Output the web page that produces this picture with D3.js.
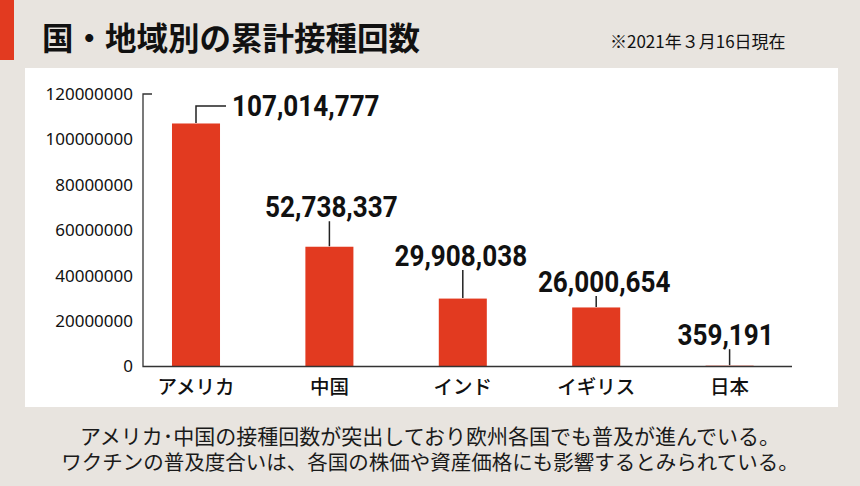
<!DOCTYPE html>
<meta charset="utf-8">
<script src="https://d3js.org/d3.v7.min.js"></script>
<style>
  body { margin: 0; background: #e8e4df; }
  svg { display: block; }
</style>
<div id="my_dataviz"></div>
<script>

// data
var countries = ["アメリカ", "中国", "インド", "イギリス", "日本"];
var doses = [107014777, 52738337, 29908038, 26000654, 359191];
var yTicks = [0, 20000000, 40000000, 60000000, 80000000, 100000000, 120000000];

// label placement (leader line length and nudges)
var leaderLen = [17, 25, 28, 11, 16];
var labelDx = [0, 2, -2, 8, -4];

var width = 860, height = 486;
var red = "#e23a20", ink = "#111";

var svg = d3.select("#my_dataviz")
  .append("svg")
    .attr("width", width)
    .attr("height", height);

// background + white panel
svg.append("rect").attr("width", width).attr("height", height).attr("fill", "#e8e4df");
svg.append("rect").attr("x", 0).attr("y", 0).attr("width", 14).attr("height", 60).attr("fill", red);
svg.append("rect").attr("x", 25).attr("y", 68).attr("width", 813).attr("height", 339).attr("fill", "#fff");

// title
svg.append("text")
  .attr("x", 42).attr("y", 50)
  .text("国・地域別の累計接種回数")
  .style("font-family", "'Noto Sans CJK JP'")
  .style("font-weight", 700)
  .style("font-size", "31.5px")
  .style("fill", ink);

svg.append("text")
  .attr("x", 610).attr("y", 48)
  .text("※2021年３月16日現在")
  .style("font-family", "'Noto Sans CJK JP'")
  .style("font-size", "17px")
  .style("fill", ink);

// scales
var x = d3.scaleBand()
  .domain(countries)
  .range([129.3, 796.3])
  .paddingInner(0.64)
  .paddingOuter(0.32);

var y = d3.scaleLinear()
  .domain([0, 120000000])
  .range([366.5, 94]);

// Y axis labels
var yAxis = svg.append("g")
  .attr("transform", "translate(143,0)")
  .call(d3.axisLeft(y).tickValues(yTicks).tickSize(0).tickPadding(10).tickFormat(d3.format("d")));
yAxis.select(".domain").remove();
yAxis.selectAll("text")
  .style("font-family", "'Noto Sans'")
  .style("font-size", "17px")
  .style("fill", ink);

// bars
svg.append("g")
  .selectAll("rect")
  .data(doses)
  .join("rect")
    .attr("x", function(d, i) { return x(countries[i]); })
    .attr("y", function(d) { return y(d); })
    .attr("width", x.bandwidth())
    .attr("height", function(d) { return y(0) - y(d); })
    .attr("fill", red);

// axis frame
svg.append("path")
  .attr("d", "M" + (143 + 9) + "," + y(120000000) + "H143V" + y(0) + "H792")
  .attr("fill", "none")
  .attr("stroke", "#333")
  .attr("stroke-width", 1.3);

// category labels
svg.append("g")
  .selectAll("text")
  .data(countries)
  .join("text")
    .attr("x", function(d) { return x(d) + x.bandwidth() / 2; })
    .attr("y", 394)
    .attr("text-anchor", "middle")
    .text(function(d) { return d; })
    .style("font-family", "'Noto Sans CJK JP'")
    .style("font-weight", 500)
    .style("font-size", "19.5px")
    .style("fill", ink);

// leader lines + value labels (condensed look via horizontal squeeze)
var fmt = d3.format(",");
doses.forEach(function(d, i) {
  var cx = x(countries[i]) + x.bandwidth() / 2;
  var top = y(d) - 0.5;
  var lt = top - leaderLen[i];
  var path, lx, ly, anchor;
  if (i === 0) {
    path = "M" + cx + "," + top + "V" + lt + "H" + (cx + 30);
    lx = cx + 36; ly = lt + 10; anchor = "start";
  } else {
    path = "M" + cx + "," + top + "V" + lt;
    lx = cx + labelDx[i]; ly = lt - 4; anchor = "middle";
  }
  svg.append("path")
    .attr("d", path)
    .attr("fill", "none")
    .attr("stroke", "#222")
    .attr("stroke-width", 1.5);
  svg.append("text")
    .attr("transform", "translate(" + lx + "," + ly + ") scale(0.87,1)")
    .attr("text-anchor", anchor)
    .text(fmt(d))
    .style("font-family", "Roboto")
    .style("font-weight", 700)
    .style("font-size", "30px")
    .style("fill", ink);
});

// caption
var caption = [
  "アメリカ･中国の接種回数が突出しており欧州各国でも普及が進んでいる。",
  "ワクチンの普及度合いは、各国の株価や資産価格にも影響するとみられている。"
];
svg.append("g")
  .selectAll("text")
  .data(caption)
  .join("text")
    .attr("x", 430)
    .attr("y", function(d, i) { return 444 + i * 26; })
    .attr("text-anchor", "middle")
    .text(function(d) { return d; })
    .style("font-family", "'Noto Sans CJK JP'")
    .style("font-size", function(d, i) { return i === 0 ? "21px" : "20.5px"; })
    .style("fill", "#1a1a1a");

</script>
